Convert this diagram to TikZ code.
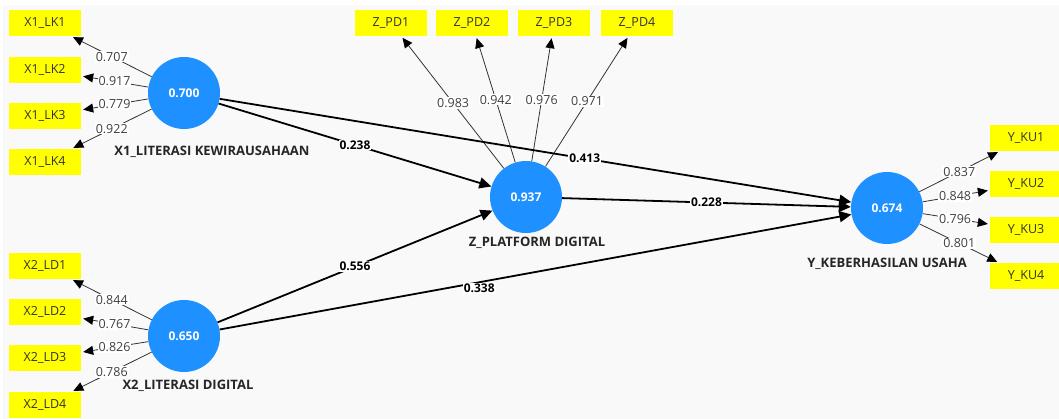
\documentclass[tikz,border=0pt]{standalone}
\usepackage{fontspec}
\setmainfont{Open Sans}
\usetikzlibrary{arrows.meta,calc}
\definecolor{bgc}{HTML}{F9F9F9}
\definecolor{lvc}{HTML}{1E90FF}
\definecolor{indc}{HTML}{FFFF00}
\definecolor{txtc}{HTML}{333333}
\definecolor{ltxtc}{HTML}{404040}
\begin{document}
\begin{tikzpicture}[x=1pt,y=-1pt,
 indbox/.style={fill=indc, minimum width=72pt, minimum height=26pt, inner sep=0pt, font=\fontsize{12.5}{14}\selectfont, text=txtc},
 lvnode/.style={circle, fill=lvc, minimum size=72pt, inner sep=0pt, text=white, font=\bfseries\fontsize{12}{14}\selectfont},
 lvlab/.style={font=\bfseries\fontsize{13}{15}\selectfont, text=black!85},
 loadarrow/.style={draw=black!80, line width=0.8pt, shorten >=2pt, -{Triangle[width=9pt,length=10pt,black]}},
 patharrow/.style={draw=black, line width=1.8pt, -{Triangle[width=11pt,length=12pt]}},
 lw/.style={fill=white, inner sep=1pt, font=\fontsize{12.5}{14}\selectfont, text=ltxtc},
 pw/.style={fill=white, inner sep=1pt, font=\bfseries\fontsize{12}{14}\selectfont, text=black},
]
\useasboundingbox (0,0) rectangle (1059,419);
\fill[white] (0,0) rectangle (1059,419);
\fill[bgc] (3,5) rectangle (1059,419);

% latent variables
\node[lvnode] (X1) at (184,93) {0.700};
\node[lvnode] (X2) at (184,336) {0.650};
\node[lvnode] (Z) at (526,197) {0.937};
\node[lvnode] (Y) at (887,208) {0.674};

\node[lvlab] (X1l) at (212,152) {X1\_LITERASI KEWIRAUSAHAAN};
\node[lvlab] (X2l) at (188,386) {X2\_LITERASI DIGITAL};
\node[lvlab] (Zl) at (537,243) {Z\_PLATFORM DIGITAL};
\node[lvlab] (Yl) at (887,264) {Y\_KEBERHASILAN USAHA};

% indicators
\node[indbox] (LK1) at (45,23) {X1\_LK1};
\node[indbox] (LK2) at (45,70) {X1\_LK2};
\node[indbox] (LK3) at (45,116) {X1\_LK3};
\node[indbox] (LK4) at (45,162) {X1\_LK4};
\node[indbox] (LD1) at (45,266) {X2\_LD1};
\node[indbox] (LD2) at (45,312) {X2\_LD2};
\node[indbox] (LD3) at (45,358) {X2\_LD3};
\node[indbox] (LD4) at (45,405) {X2\_LD4};
\node[indbox] (PD1) at (391,23) {Z\_PD1};
\node[indbox] (PD2) at (472,23) {Z\_PD2};
\node[indbox] (PD3) at (554,23) {Z\_PD3};
\node[indbox] (PD4) at (637,23) {Z\_PD4};
\node[indbox] (KU1) at (1026,138) {Y\_KU1};
\node[indbox] (KU2) at (1026,184) {Y\_KU2};
\node[indbox] (KU3) at (1026,230) {Y\_KU3};
\node[indbox] (KU4) at (1026,276) {Y\_KU4};

% loadings
\foreach \a/\b in {X1/LK1,X1/LK2,X1/LK3,X1/LK4,X2/LD1,X2/LD2,X2/LD3,X2/LD4,Z/PD1,Z/PD2,Z/PD3,Z/PD4,Y/KU1,Y/KU2,Y/KU3,Y/KU4}
  \draw[loadarrow] (\a) -- (\b);

\node[lw] at ($(X1)!0.52!(LK1)$) {0.707};
\node[lw] at ($(X1)!0.50!(LK2)$) {0.917};
\node[lw] at ($(X1)!0.50!(LK3)$) {0.779};
\node[lw] at ($(X1)!0.52!(LK4)$) {0.922};
\node[lw] at ($(X2)!0.52!(LD1)$) {0.844};
\node[lw] at ($(X2)!0.50!(LD2)$) {0.767};
\node[lw] at ($(X2)!0.50!(LD3)$) {0.826};
\node[lw] at ($(X2)!0.52!(LD4)$) {0.786};
\node[lw] at ($(Z)!0.54!(PD1)$) {0.983};
\node[lw] at ($(Z)!0.56!(PD2)$) {0.942};
\node[lw] at ($(Z)!0.56!(PD3)$) {0.976};
\node[lw] at ($(Z)!0.55!(PD4)$) {0.971};
\node[lw] at ($(Y)!0.52!(KU1)$) {0.837};
\node[lw] at ($(Y)!0.49!(KU2)$) {0.848};
\node[lw] at ($(Y)!0.49!(KU3)$) {0.796};
\node[lw] at ($(Y)!0.52!(KU4)$) {0.801};

% structural paths
\draw[patharrow] (X1) -- (Z);
\draw[patharrow] (X1) -- (Y);
\draw[patharrow] (Z) -- (Y);
\draw[patharrow] (X2) -- (Z);
\draw[patharrow] (X2) -- (Y);

\node[pw] at ($(X1)!0.50!(Z)$) {0.238};
\node[pw] at ($(X1)!0.57!(Y)$) {0.413};
\node[pw] at ($(Z)!0.50!(Y)$) {0.228};
\node[pw] at ($(X2)!0.50!(Z)$) {0.556};
\node[pw] at ($(X2)!0.42!(Y)+(0,6)$) {0.338};
\end{tikzpicture}
\end{document}
